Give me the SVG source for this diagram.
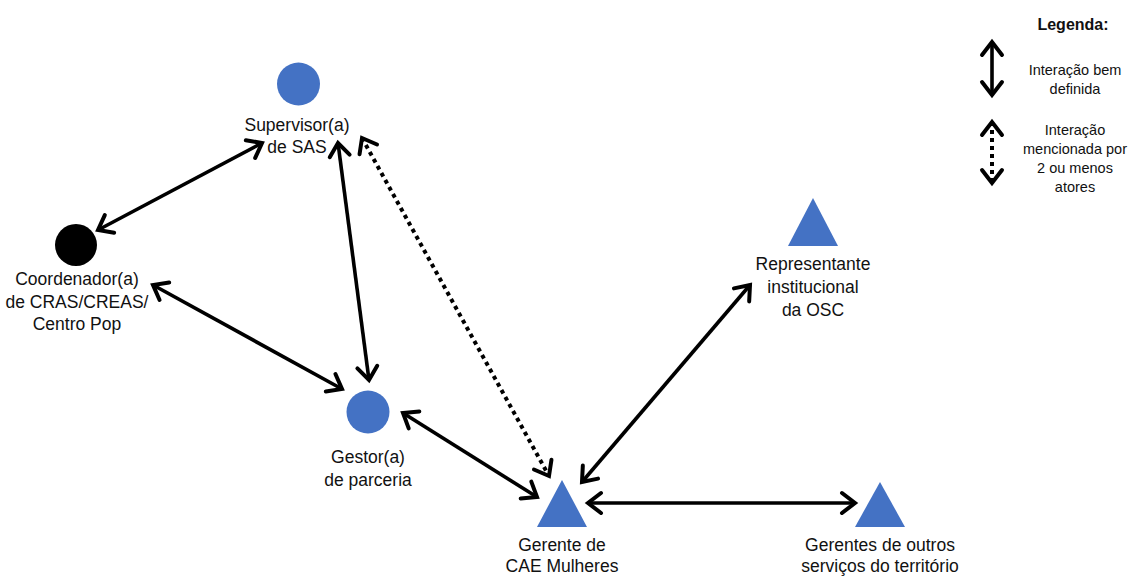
<svg xmlns="http://www.w3.org/2000/svg" width="1131" height="576" viewBox="0 0 1131 576">
<style>
text{font-family:"Liberation Sans",Arial,sans-serif;fill:#111;text-anchor:middle}
.lbl{font-size:17.5px}
.leg{font-size:14.5px}
.title{font-size:16px;font-weight:bold}
.blue{fill:#4472C4}
.con{stroke:#000;stroke-width:3.6;fill:none}
.dot{stroke-width:4;stroke-dasharray:4 4}
</style>
<defs>
<marker id="ah" markerUnits="userSpaceOnUse" viewBox="-16 -12 20 24" refX="0" refY="0" markerWidth="20" markerHeight="24" orient="auto-start-reverse" overflow="visible">
<path d="M -13 -10 L 0 0 L -13 10" fill="none" stroke="#000" stroke-width="4" stroke-linecap="round" stroke-linejoin="miter"/>
</marker>
</defs>
<g id="connectors">
<line class="con" x1="98" y1="230" x2="262" y2="143" marker-start="url(#ah)" marker-end="url(#ah)"/>
<line class="con" x1="153" y1="285" x2="342" y2="389" marker-start="url(#ah)" marker-end="url(#ah)"/>
<line class="con" x1="338" y1="143" x2="369" y2="380" marker-start="url(#ah)" marker-end="url(#ah)"/>
<line class="con dot" x1="362" y1="138" x2="549" y2="476" marker-start="url(#ah)" marker-end="url(#ah)"/>
<line class="con" x1="403" y1="413" x2="537" y2="497" marker-start="url(#ah)" marker-end="url(#ah)"/>
<line class="con" x1="582" y1="482" x2="750" y2="285" marker-start="url(#ah)" marker-end="url(#ah)"/>
<line class="con" x1="588" y1="503" x2="855" y2="503" marker-start="url(#ah)" marker-end="url(#ah)"/>
</g>
<g id="supervisor">
<circle class="blue" cx="298.5" cy="84" r="21.5"/>
<text class="lbl" x="297" y="131">Supervisor(a)</text>
<text class="lbl" x="297" y="153">de SAS</text>
</g>
<g id="coordenador">
<circle cx="76" cy="245" r="21" fill="#000"/>
<text class="lbl" x="77" y="285">Coordenador(a)</text>
<text class="lbl" x="77" y="307.5">de CRAS/CREAS/</text>
<text class="lbl" x="77" y="330">Centro Pop</text>
</g>
<g id="gestor">
<circle class="blue" cx="368" cy="412" r="21.5"/>
<text class="lbl" x="368" y="463">Gestor(a)</text>
<text class="lbl" x="368" y="485.5">de parceria</text>
</g>
<g id="gerente-cae">
<polygon class="blue" points="562,480 587,527 537,527"/>
<text class="lbl" x="562" y="551">Gerente de</text>
<text class="lbl" x="562" y="572">CAE Mulheres</text>
</g>
<g id="representante">
<polygon class="blue" points="813,198 838,246 788,246"/>
<text class="lbl" x="813" y="270">Representante</text>
<text class="lbl" x="813" y="293">institucional</text>
<text class="lbl" x="813" y="316">da OSC</text>
</g>
<g id="gerentes-outros">
<polygon class="blue" points="880,482 905,527 855,527"/>
<text class="lbl" x="880" y="551">Gerentes de outros</text>
<text class="lbl" x="880" y="572">serviços do território</text>
</g>
<g id="legenda">
<text class="title" x="1073" y="30">Legenda:</text>
<line class="con" x1="992" y1="42" x2="992" y2="95" marker-start="url(#ah)" marker-end="url(#ah)"/>
<text class="leg" x="1075" y="75">Interação bem</text>
<text class="leg" x="1075" y="93.5">definida</text>
<line class="con dot" x1="992" y1="122" x2="992" y2="183" marker-start="url(#ah)" marker-end="url(#ah)"/>
<text class="leg" x="1075" y="135">Interação</text>
<text class="leg" x="1075" y="154">mencionada por</text>
<text class="leg" x="1075" y="173">2 ou menos</text>
<text class="leg" x="1075" y="191.5">atores</text>
</g>
</svg>
